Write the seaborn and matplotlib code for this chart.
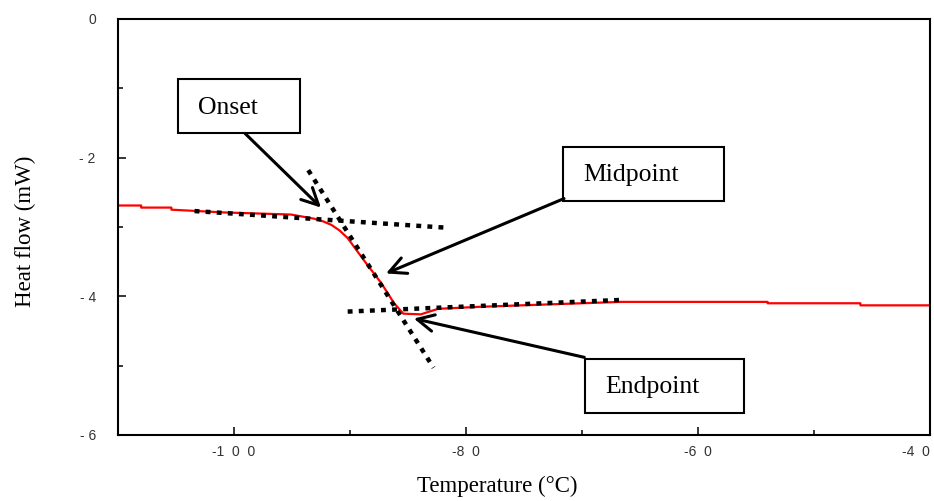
import matplotlib
matplotlib.use("Agg")
import matplotlib.pyplot as plt
import seaborn as sns
import pandas as pd
from matplotlib.patches import Rectangle

# DSC trace
temp = [-110.0, -108.0, -108.0, -105.4, -105.4, -100.9, -95.1, -93.1, -92.3, -91.6,
        -90.9, -90.2, -88.8, -87.3, -86.2, -85.4, -83.9, -82.4, -78.7, -66.6,
        -54.0, -54.0, -46.0, -46.0, -40.0]
heat = [-2.69, -2.69, -2.72, -2.72, -2.75, -2.79, -2.82, -2.88, -2.92, -2.97,
        -3.05, -3.16, -3.48, -3.81, -4.10, -4.25, -4.26, -4.18, -4.15, -4.08,
        -4.08, -4.10, -4.10, -4.13, -4.13]

# tangent construction lines
onset_x, onset_y = [-103.4, -81.7], [-2.77, -3.01]
slope_x, slope_y = [-93.6, -82.8], [-2.18, -5.03]
end_x, end_y = [-90.2, -66.4], [-4.22, -4.05]

xticks = [-100, -80, -60, -40]
xlabels = ["-1  0  0", "-8  0", "-6  0", "-4  0"]
yticks = [0, -2, -4, -6]
ylabels = ["0", "- 2", "- 4", "- 6"]

sns.set_theme(style="white")
plt.rcParams["font.family"] = ["Liberation Serif", "DejaVu Serif"]
plt.rcParams["text.color"] = "black"
plt.rcParams["axes.labelcolor"] = "black"

fig = plt.figure(figsize=(9.34, 5.01), dpi=100)
ax = fig.add_axes([118 / 934, 1 - 435 / 501, 812 / 934, 416 / 501])

df = pd.DataFrame({"T": temp, "Q": heat})
sns.lineplot(data=df, x="T", y="Q", sort=False, estimator=None, color="#ff0000",
             lw=1.6, ax=ax)

for xs, ys in [(onset_x, onset_y), (slope_x, slope_y), (end_x, end_y)]:
    ax.plot(xs, ys, color="black", lw=3.2, dashes=(1.1, 1.4), zorder=3)

ax.set_xlim(-110, -40)
ax.set_ylim(-6, 0)
ax.set_xticks(xticks)
ax.set_xticklabels(xlabels, family="Liberation Sans", fontsize=10, color="#333333")
ax.get_xticklabels()[-1].set_ha("right")
ax.set_xticks([-90, -70, -50], minor=True)
ax.set_yticks(yticks)
ax.set_yticklabels(ylabels, family="Liberation Sans", fontsize=10, color="#333333")
ax.set_yticks([-1, -3, -5], minor=True)
ax.tick_params(axis="x", which="major", direction="in", length=6, width=1.3, pad=7,
               bottom=True)
ax.tick_params(axis="y", which="major", direction="in", length=6, width=1.3, pad=16,
               left=True)
ax.tick_params(which="minor", direction="in", length=3.5, width=1.3, bottom=True, left=True)
for s in ax.spines.values():
    s.set_color("black")
    s.set_linewidth(1.5)

ax.set_xlabel("Temperature (°C)", fontsize=16.5)
ax.set_ylabel("Heat flow (mW)", fontsize=16.5)
ax.xaxis.set_label_coords(0.467, -0.097)
ax.yaxis.set_label_coords(-0.101, 0.49)

# labelled boxes: (label, x0, x1, y0, y1) in data units
boxes = [("Onset", -104.8, -94.3, -1.65, -0.87),
         ("Midpoint", -71.6, -57.8, -2.62, -1.84),
         ("Endpoint", -69.7, -56.0, -5.68, -4.90)]
for label, x0, x1, y0, y1 in boxes:
    ax.add_patch(Rectangle((x0, y0), x1 - x0, y1 - y0, fill=False, ec="black",
                           lw=1.5, zorder=4))
    ax.text(x0 + 1.7, (y0 + y1) / 2 - 0.02, label, fontsize=18.5, ha="left",
            va="center", color="black", zorder=5)

arrows = [((-99.05, -1.65), (-92.5, -2.72)),
          ((-71.55, -2.59), (-86.9, -3.67)),
          ((-69.8, -4.88), (-84.5, -4.32))]
for start, tip in arrows:
    ax.annotate("", xy=tip, xytext=start,
                arrowprops=dict(arrowstyle="->,head_length=1.0,head_width=0.5",
                                color="black", lw=2.2, shrinkA=0, shrinkB=0),
                zorder=5)

fig.savefig("out.png", dpi=100)
